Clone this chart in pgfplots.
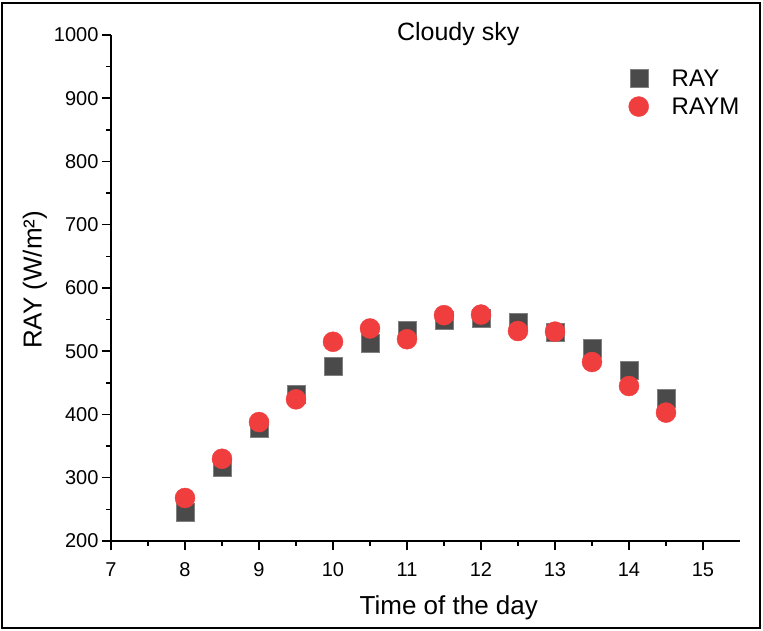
\documentclass[border=0pt]{standalone}
\usepackage{fontspec}
\setmainfont{Liberation Sans}
\usepackage{pgfplots}
\pgfplotsset{compat=1.18}
\definecolor{raygray}{HTML}{4A4A4A}
\definecolor{raymred}{HTML}{F03E3E}
\pgfplotsset{
  legmark/.style={legend image code/.code={\draw[##1] plot coordinates {(0pt,0pt)};
      \path[draw=none] (-10pt,0pt) -- (31pt,0pt);}},
}

\begin{document}
\begin{tikzpicture}
\path[use as bounding box] (-111pt,-90pt) rectangle (652pt,541pt);
\draw[line width=1.5pt] (-109pt,-87pt) rectangle (649pt,538pt);
\begin{axis}[
    at={(0pt,0pt)}, anchor=south west,
    scale only axis, width=629pt, height=506pt,
    xmin=7, xmax=15.5, ymin=200, ymax=1000,
    xtick={7,...,15}, ytick={200,300,...,1000},
    minor x tick num=1, minor y tick num=1,
    axis lines*=left,
    axis line style={line width=1.8pt},
    tick align=outside,
    major tick length=9pt, minor tick length=5pt,
    tick style={line width=1.5pt, black},
    /pgf/number format/assume math mode=true,
    /pgf/number format/1000 sep={},
    tick label style={font=\fontsize{20}{24}\selectfont},
    xticklabel style={yshift=-9pt},
    title={Cloudy sky},
    title style={at={(0.552,0.991)}, anchor=center, yshift=0pt,
      font=\fontsize{25}{30}\selectfont},
    xlabel={Time of the day},
    ylabel={RAY (W/m²)},
    label style={font=\fontsize{26}{31}\selectfont},
    xlabel style={at={(0.537,-0.132)}, anchor=center},
    ylabel style={at={(-0.121,0.516)}, anchor=center},
    legend style={at={(0.818,0.94)}, anchor=north west, draw=none, fill=none,
      font=\fontsize{24}{28}\selectfont, row sep=6pt},
    legend cell align=left,
    clip=false,
  ]
  \addplot[only marks, mark=square*, mark size=9pt, legmark,
    mark options={fill=raygray, draw=raygray!70!white, line width=0.4pt}]
    coordinates {(8,246) (8.5,316) (9,379) (9.5,432) (10,477) (10.5,513)
      (11,533) (11.5,549) (12,552) (12.5,546) (13,530) (13.5,505) (14,470) (14.5,425)};
  \addlegendentry{RAY}
  \addplot[only marks, mark=*, mark size=10pt, legmark,
    mark options={fill=raymred, draw=raymred, line width=0.4pt}]
    coordinates {(8,268) (8.5,330) (9,388) (9.5,424) (10,515) (10.5,536)
      (11,519) (11.5,557) (12,558) (12.5,532) (13,531) (13.5,483) (14,445) (14.5,403)};
  \addlegendentry{RAYM}
\end{axis}
\end{tikzpicture}
\end{document}
